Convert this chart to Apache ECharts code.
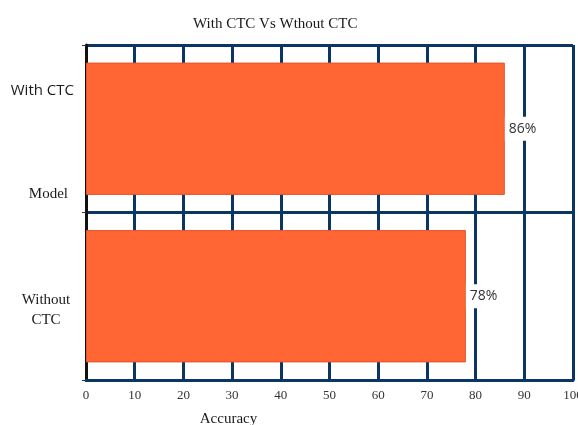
<!DOCTYPE html>
<html>
<head>
<meta charset="utf-8">
<script src="https://cdn.jsdelivr.net/npm/echarts@6/dist/echarts.min.js"></script>
<style>
  html, body { margin: 0; padding: 0; background: #fff; }
  #chart { width: 578px; height: 425px; }
</style>
</head>
<body>
<div id="chart"></div>
<script>
// Model accuracy comparison
const models = ['With CTC', 'Without CTC'];
const accuracy = [86, 78];
const xTicks = { min: 0, max: 100, interval: 10 };

const navy = '#0b3565';
const serif = '"Liberation Serif", "Times New Roman", serif';
const sans = '"Open Sans", "Liberation Sans", sans-serif';

const chart = echarts.init(document.getElementById('chart'));
chart.setOption({
  backgroundColor: '#fff',
  animation: false,
  title: {
    text: 'With CTC Vs Wthout CTC',
    left: 188,
    top: 12,
    textStyle: { fontFamily: serif, fontSize: 15, fontWeight: 'normal', color: '#1a1a1a' }
  },
  grid: { left: 86, right: 5, top: 45, bottom: 45, containLabel: false, outerBoundsMode: 'none' },
  xAxis: {
    type: 'value',
    min: xTicks.min,
    max: xTicks.max,
    interval: xTicks.interval,
    name: 'Accuracy',
    nameLocation: 'middle',
    nameGap: 32,
    nameMoveOverlap: false,
    nameTextStyle: { fontFamily: serif, fontSize: 15, color: '#1a1a1a', padding: [0, 202, 0, 0] },
    axisLine: { show: true, lineStyle: { color: navy, width: 3 } },
    axisTick: { show: false },
    axisLabel: { fontFamily: serif, fontSize: 13, color: '#333', margin: 9 },
    splitLine: { show: true, lineStyle: { color: navy, width: 3 } }
  },
  yAxis: {
    type: 'category',
    data: models,
    inverse: true,
    name: 'Model',
    nameLocation: 'middle',
    nameRotate: 0,
    nameGap: 18,
    nameMoveOverlap: false,
    nameTextStyle: {
      fontFamily: serif, fontSize: 15, color: '#1a1a1a',
      align: 'right', verticalAlign: 'bottom', lineHeight: 36
    },
    axisLine: { show: true, lineStyle: { color: '#111', width: 3 } },
    axisTick: { show: true, length: 4, lineStyle: { color: '#333', width: 1 } },
    axisLabel: {
      margin: 12,
      formatter: function (v) {
        if (v === 'With CTC') return '{a|With CTC}';
        return '{s|}\n{b|Without}\n{b|CTC}';
      },
      rich: {
        a: { fontFamily: sans, fontSize: 15, color: '#1a1a1a', padding: [0, 0, 76, 0] },
        s: { lineHeight: 28 },
        b: { fontFamily: serif, fontSize: 15, color: '#1a1a1a', align: 'center', width: 56, lineHeight: 20 }
      }
    },
    splitLine: { show: true, lineStyle: { color: navy, width: 3 } }
  },
  series: [{
    type: 'bar',
    data: accuracy,
    barCategoryGap: '21%',
    itemStyle: { color: '#ff6633', borderColor: '#e2552a', borderWidth: 1 },
    label: {
      show: true,
      position: 'right',
      distance: 0,
      formatter: '{c}%',
      backgroundColor: '#fff',
      padding: [5, 4, 5, 4],
      fontFamily: sans,
      fontSize: 14,
      color: '#333'
    }
  }]
});
</script>
</body>
</html>
